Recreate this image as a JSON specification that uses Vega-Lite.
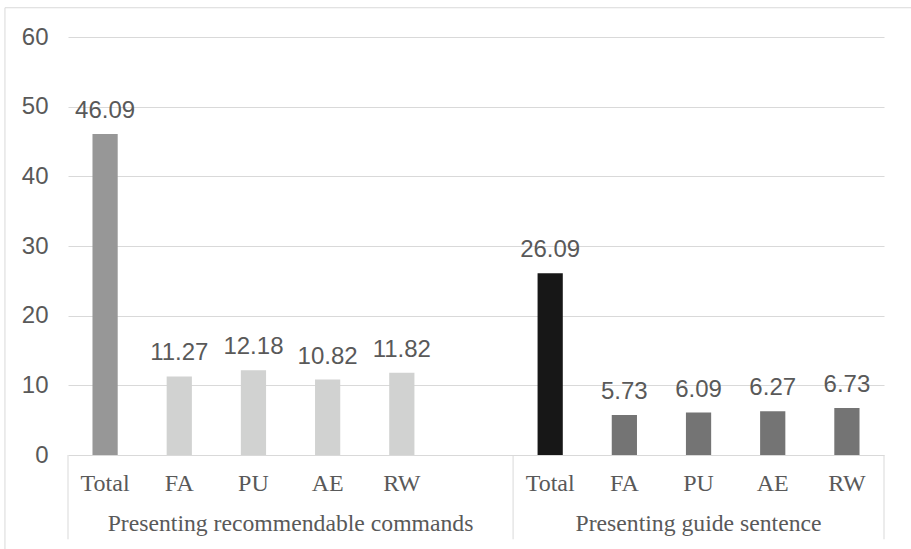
{
  "$schema": "https://vega.github.io/schema/vega-lite/v6.json",
  "width": 816,
  "height": 418,
  "autosize": {"type": "none"},
  "padding": {"left": 68, "top": 37, "right": 27, "bottom": 94},
  "background": "white",
  "config": {"view": {"stroke": null}, "font": "Liberation Sans"},
  "data": {
    "values": [
      {"slot": "c01", "group": "Presenting recommendable commands", "cat": "Total", "value": 46.09, "shade": "total1"},
      {"slot": "c02", "group": "Presenting recommendable commands", "cat": "FA", "value": 11.27, "shade": "sub1"},
      {"slot": "c03", "group": "Presenting recommendable commands", "cat": "PU", "value": 12.18, "shade": "sub1"},
      {"slot": "c04", "group": "Presenting recommendable commands", "cat": "AE", "value": 10.82, "shade": "sub1"},
      {"slot": "c05", "group": "Presenting recommendable commands", "cat": "RW", "value": 11.82, "shade": "sub1"},
      {"slot": "c07", "group": "Presenting guide sentence", "cat": "Total", "value": 26.09, "shade": "total2"},
      {"slot": "c08", "group": "Presenting guide sentence", "cat": "FA", "value": 5.73, "shade": "sub2"},
      {"slot": "c09", "group": "Presenting guide sentence", "cat": "PU", "value": 6.09, "shade": "sub2"},
      {"slot": "c10", "group": "Presenting guide sentence", "cat": "AE", "value": 6.27, "shade": "sub2"},
      {"slot": "c11", "group": "Presenting guide sentence", "cat": "RW", "value": 6.73, "shade": "sub2"}
    ]
  },
  "layer": [
    {
      "mark": {"type": "bar", "width": {"band": 0.34}},
      "encoding": {
        "x": {
          "field": "slot", "type": "nominal",
          "scale": {"type": "band", "domain": ["c01","c02","c03","c04","c05","c06","c07","c08","c09","c10","c11"], "paddingInner": 0, "paddingOuter": 0},
          "axis": null
        },
        "y": {
          "field": "value", "type": "quantitative",
          "scale": {"domain": [0, 60], "nice": false},
          "axis": {
            "values": [0, 10, 20, 30, 40, 50, 60],
            "grid": true, "gridColor": "#d9d9d9", "gridWidth": 1,
            "domain": false, "ticks": false,
            "labelFont": "Liberation Sans", "labelFontSize": 24, "labelColor": "#595959",
            "labelPadding": 20, "title": null
          }
        },
        "color": {
          "field": "shade", "type": "nominal",
          "scale": {"domain": ["total1", "sub1", "total2", "sub2"], "range": ["#979797", "#d1d2d1", "#171717", "#747474"]},
          "legend": null
        }
      }
    },
    {
      "mark": {"type": "text", "dy": -16, "baseline": "alphabetic", "font": "Liberation Sans", "fontSize": 24, "color": "#595959"},
      "encoding": {
        "x": {"field": "slot", "type": "nominal"},
        "y": {"field": "value", "type": "quantitative"},
        "text": {"field": "value", "type": "quantitative", "format": ".2f"}
      }
    },
    {
      "mark": {"type": "text", "baseline": "alphabetic", "font": "Liberation Serif", "fontSize": 24, "color": "#595959"},
      "encoding": {
        "x": {"field": "slot", "type": "nominal"},
        "y": {"datum": -5.2, "type": "quantitative"},
        "text": {"field": "cat", "type": "nominal"}
      }
    },
    {
      "data": {"values": [{"label": "Presenting recommendable commands"}]},
      "mark": {"type": "text", "baseline": "alphabetic", "font": "Liberation Serif", "fontSize": 23.7, "color": "#595959"},
      "encoding": {
        "x": {"datum": "c03", "type": "nominal", "bandPosition": 1},
        "y": {"datum": -10.9, "type": "quantitative"},
        "text": {"field": "label", "type": "nominal"}
      }
    },
    {
      "data": {"values": [{"label": "Presenting guide sentence"}]},
      "mark": {"type": "text", "baseline": "alphabetic", "font": "Liberation Serif", "fontSize": 23.7, "color": "#595959"},
      "encoding": {
        "x": {"datum": "c09", "type": "nominal", "bandPosition": 0.5},
        "y": {"datum": -10.9, "type": "quantitative"},
        "text": {"field": "label", "type": "nominal"}
      }
    },
    {
      "data": {"values": [{}]},
      "mark": {"type": "rule", "color": "#d9d9d9", "strokeWidth": 1},
      "encoding": {
        "x": {"datum": "c01", "type": "nominal", "bandPosition": 0},
        "y": {"datum": 0, "type": "quantitative"},
        "y2": {"datum": -12.1}
      }
    },
    {
      "data": {"values": [{}]},
      "mark": {"type": "rule", "color": "#d9d9d9", "strokeWidth": 1},
      "encoding": {
        "x": {"datum": "c07", "type": "nominal", "bandPosition": 0},
        "y": {"datum": 0, "type": "quantitative"},
        "y2": {"datum": -12.1}
      }
    },
    {
      "data": {"values": [{}]},
      "mark": {"type": "rule", "color": "#d9d9d9", "strokeWidth": 1},
      "encoding": {
        "x": {"datum": "c11", "type": "nominal", "bandPosition": 1},
        "y": {"datum": 0, "type": "quantitative"},
        "y2": {"datum": -12.1}
      }
    },
    {
      "data": {"values": [{}]},
      "mark": {"type": "rule", "color": "#d9d9d9", "strokeWidth": 1},
      "encoding": {
        "x": {"datum": "c01", "type": "nominal", "bandPosition": -0.85},
        "y": {"datum": 64.2, "type": "quantitative"},
        "y2": {"datum": -13.5}
      }
    },
    {
      "data": {"values": [{}]},
      "mark": {"type": "rule", "color": "#d9d9d9", "strokeWidth": 1},
      "encoding": {
        "x": {"datum": "c01", "type": "nominal", "bandPosition": -0.85},
        "x2": {"datum": "c11", "bandPosition": 1.4},
        "y": {"datum": 64.2, "type": "quantitative"}
      }
    }
  ]
}
